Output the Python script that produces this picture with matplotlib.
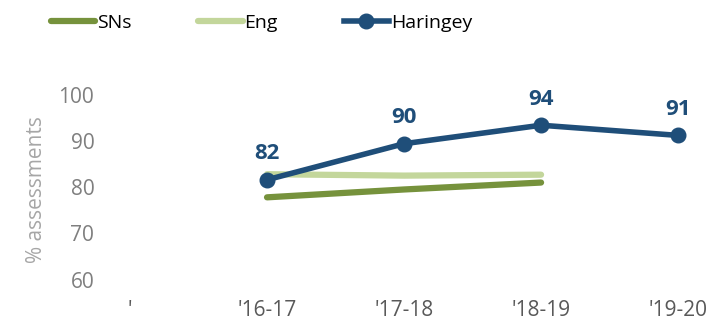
import matplotlib.pyplot as plt

plt.rcParams['font.family'] = ['Open Sans', 'DejaVu Sans']

# categories (first one is an empty slot labelled with a stray apostrophe)
years = ["'", "'16-17", "'17-18", "'18-19", "'19-20"]
sns_vals = [None, 77.8, 79.5, 81.0, None]
eng_vals = [None, 82.8, 82.5, 82.7, None]
haringey_vals = [None, 81.6, 89.4, 93.4, 91.2]
haringey_labels = ['', '82', '90', '94', '91']

c_sns = '#76923C'
c_eng = '#C3D69B'
c_har = '#1F4E79'

fig = plt.figure(figsize=(7.16, 3.25), dpi=100)
ax = fig.add_axes([0.1433, 0.097, 0.842, 0.64])

x = list(range(len(years)))

def pts(vals):
    xs = [i for i, v in zip(x, vals) if v is not None]
    ys = [v for v in vals if v is not None]
    return xs, ys

xs, ys = pts(sns_vals)
ax.plot(xs, ys, color=c_sns, lw=4.5, solid_capstyle='round', label='SNs', zorder=2)
xs, ys = pts(eng_vals)
ax.plot(xs, ys, color=c_eng, lw=4.5, solid_capstyle='round', label='Eng', zorder=1)
xs, ys = pts(haringey_vals)
ax.plot(xs, ys, color=c_har, lw=4, marker='o', ms=10.5, label='Haringey', zorder=3)

# value labels above Haringey points
for xi, v, lab in zip(x, haringey_vals, haringey_labels):
    if v is not None:
        ax.annotate(lab, (xi, v), xytext=(0, 11), textcoords='offset points',
                    ha='center', va='bottom', fontsize=16, fontweight='bold', color=c_har)

ax.set_xlim(-0.2, 4.2)
ax.set_ylim(57, 102)
ax.set_xticks(x)
ax.set_xticklabels(years)
ax.set_yticks([60, 70, 80, 90, 100])
ax.tick_params(length=0, labelsize=15, labelcolor='#7f7f7f')
ax.tick_params(axis='x', pad=5, labelcolor='#595959')
ax.tick_params(axis='y', pad=6)
for s in ax.spines.values():
    s.set_visible(False)
ax.set_ylabel('% assessments', fontsize=15, color='#a6a6a6', labelpad=8)

fig.legend(loc='center', bbox_to_anchor=(0.365, 0.93), ncol=3, frameon=False,
           fontsize=14, handlelength=2.3, handletextpad=0.1, columnspacing=3.4)

fig.savefig('out.png', dpi=100)
